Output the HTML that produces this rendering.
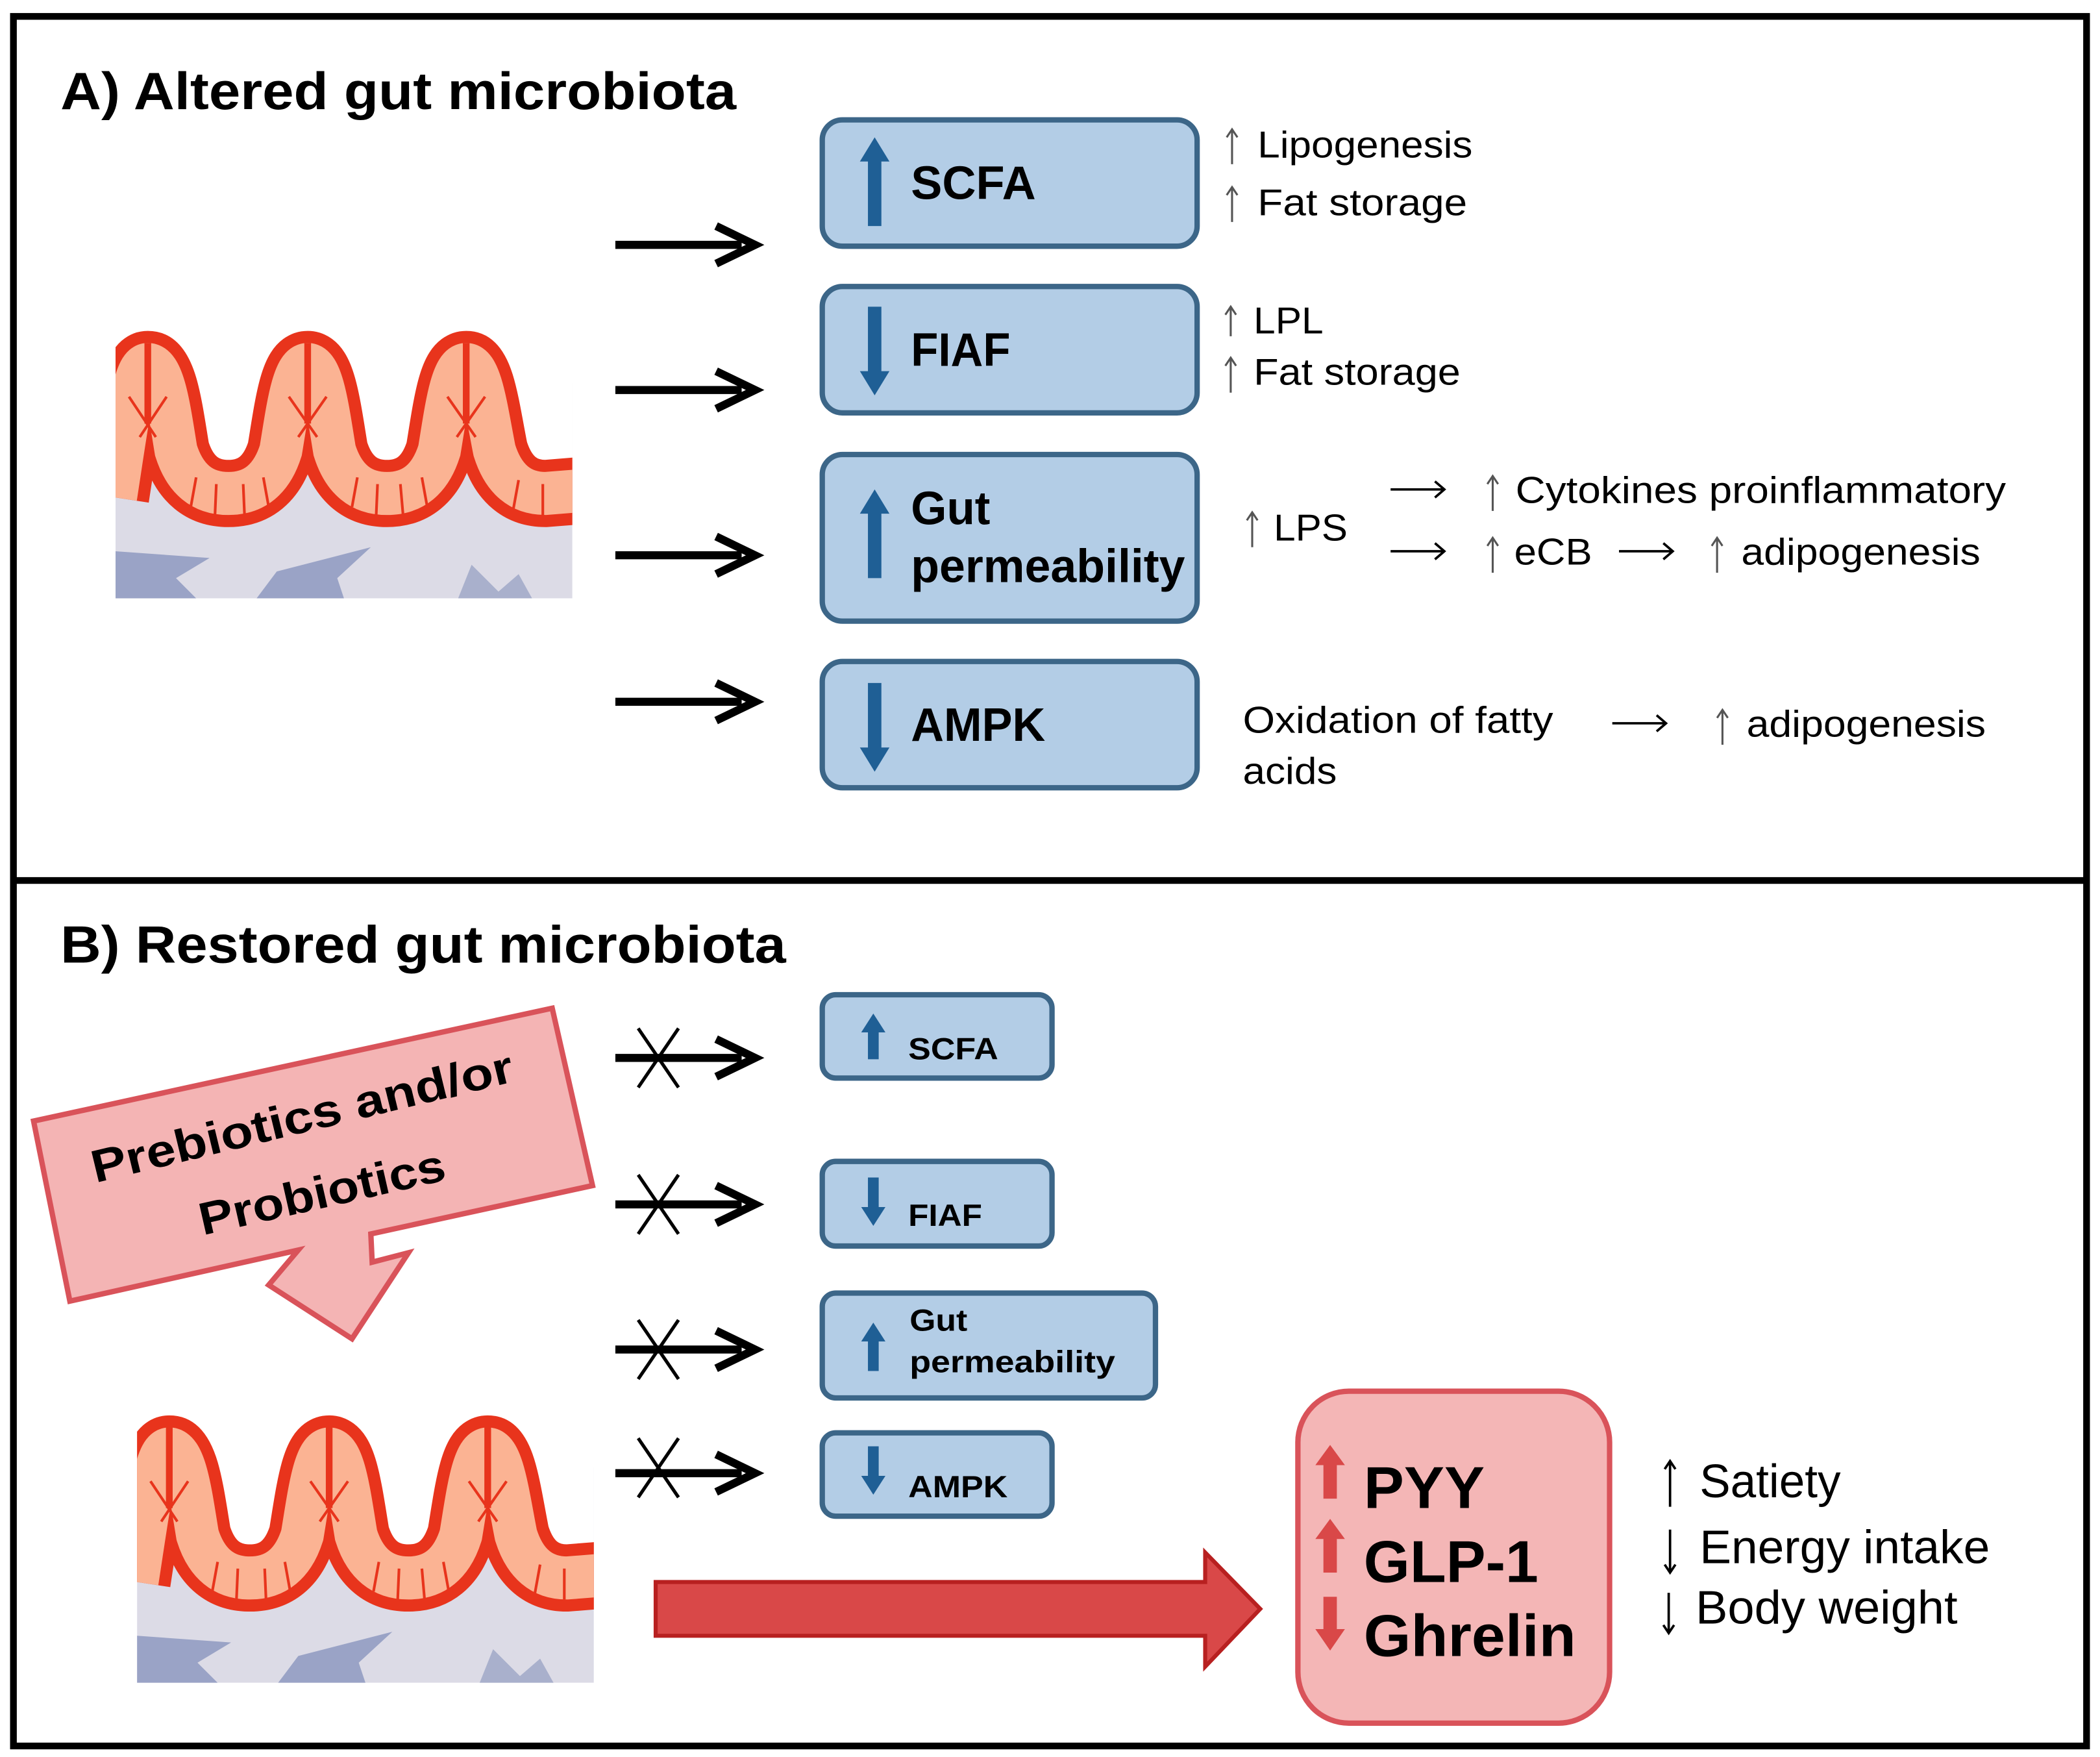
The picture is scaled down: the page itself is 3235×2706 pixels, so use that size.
<!DOCTYPE html>
<html><head><meta charset="utf-8"><style>
html,body{margin:0;padding:0;background:#fff}
svg{display:block}
text{font-family:"Liberation Sans",Arial,sans-serif}
</style></head><body>
<svg width="3235" height="2706" viewBox="0 0 1563 1307" xmlns="http://www.w3.org/2000/svg">
<defs>
<clipPath id="gc"><rect x="0" y="0" width="340" height="200"/></clipPath>
<g id="gut">
<g clip-path="url(#gc)">
<rect x="0" y="40" width="340" height="160" fill="#dcdbe6"/>
<path d="M0,125 C10,60 14,26 24,26 C36,26 40,60 45,90 Q55,122 84,122 Q113,122 123,90 C128,60 132,26 143,26 C154,26 158,60 163,90 Q173,122 202,122 Q231,122 241,90 C246,60 250,26 261,26 C272,26 276,60 282,90 Q292,122 320,122 L345,120 L345,0 L0,0 Z" fill="#fff"/>
<polygon points="0,165 70,170 45,185 60,200 0,200" fill="#9aa3c6"/>
<polygon points="105,200 120,180 190,162 165,185 170,200" fill="#9aa3c6"/>
<polygon points="255,200 265,175 285,195 300,182 310,200" fill="#a9b0cc"/>
<path d="M0,125 C10,60 14,26 24,26 C36,26 40,60 45,90 Q55,122 84,122 Q113,122 123,90 C128,60 132,26 143,26 C154,26 158,60 163,90 Q173,122 202,122 Q231,122 241,90 C246,60 250,26 261,26 C272,26 276,60 282,90 Q292,122 320,122 L345,120" fill="none" stroke="#e8341c" stroke-width="50"/>
<path d="M0,125 C10,60 14,26 24,26 C36,26 40,60 45,90 Q55,122 84,122 Q113,122 123,90 C128,60 132,26 143,26 C154,26 158,60 163,90 Q173,122 202,122 Q231,122 241,90 C246,60 250,26 261,26 C272,26 276,60 282,90 Q292,122 320,122 L345,120" fill="none" stroke="#fbb393" stroke-width="32"/>
<path d="M24,10 L24,70 M143,10 L143,70 M261,10 L261,70" stroke="#e8341c" stroke-width="5"/>
<path d="M10,50 L30,80 M38,50 L18,80 M129,50 L150,80 M157,50 L136,80 M247,50 L268,80 M275,50 L254,80" stroke="#e8341c" stroke-width="2"/>
<path d="M60,110 L56,132 M75,115 L74,138 M95,115 L96,138 M110,110 L114,132 M180,110 L176,132 M195,115 L194,138 M212,115 L214,138 M228,110 L232,132 M300,112 L296,134 M318,115 L318,138" stroke="#e8341c" stroke-width="2"/>
</g>
</g>
<g id="bar"><path d="M458,0 L552,0" stroke="#000" stroke-width="6"/><path d="M533,-14 L562,0 L533,14" fill="none" stroke="#000" stroke-width="6"/></g>
<g id="xx"><path d="M475,-22 L505,22 M505,-22 L475,22" stroke="#000" stroke-width="2.5"/></g>
</defs>

<rect x="10" y="12" width="1543" height="1287" fill="none" stroke="#000" stroke-width="5"/>
<line x1="10" y1="655" x2="1553" y2="655" stroke="#000" stroke-width="5"/>

<text x="45" y="81" font-size="39" font-weight="bold" textLength="503" lengthAdjust="spacingAndGlyphs">A) Altered gut microbiota</text>
<text x="45" y="716" font-size="39" font-weight="bold" textLength="540" lengthAdjust="spacingAndGlyphs">B) Restored gut microbiota</text>

<use href="#gut" x="86" y="245"/>
<use href="#gut" x="102" y="1052"/>

<use href="#bar" y="182"/><use href="#bar" y="290"/><use href="#bar" y="413"/><use href="#bar" y="522"/>
<use href="#bar" y="787"/><use href="#bar" y="896"/><use href="#bar" y="1004"/><use href="#bar" y="1096"/>
<use href="#xx" y="787"/><use href="#xx" y="896"/><use href="#xx" y="1004"/><use href="#xx" y="1092"/>

<g fill="#b3cde6" stroke="#3c6688" stroke-width="4">
<rect x="612" y="89" width="279" height="94" rx="15"/>
<rect x="612" y="213" width="279" height="94" rx="15"/>
<rect x="612" y="338" width="279" height="124" rx="15"/>
<rect x="612" y="492" width="279" height="94" rx="15"/>
<rect x="612" y="740" width="171" height="62" rx="10"/>
<rect x="612" y="864" width="171" height="63" rx="10"/>
<rect x="612" y="962" width="248" height="78" rx="10"/>
<rect x="612" y="1066" width="171" height="62" rx="10"/>
</g>
<g fill="#1f5f95">
<path d="M646,168 L646,120 L640,120 L651,102 L662,120 L656,120 L656,168Z"/>
<path d="M646,228 L646,276 L640,276 L651,294 L662,276 L656,276 L656,228Z"/>
<path d="M646,430 L646,382 L640,382 L651,364 L662,382 L656,382 L656,430Z"/>
<path d="M646,508 L646,556 L640,556 L651,574 L662,556 L656,556 L656,508Z"/>
<path d="M646,788 L646,768 L641,768 L650,754 L659,768 L654,768 L654,788Z"/>
<path d="M646,876 L646,898 L641,898 L650,912 L659,898 L654,898 L654,876Z"/>
<path d="M646,1020 L646,998 L641,998 L650,984 L659,998 L654,998 L654,1020Z"/>
<path d="M646,1076 L646,1098 L641,1098 L650,1112 L659,1098 L654,1098 L654,1076Z"/>
</g>
<g font-weight="bold">
<text x="678" y="148" font-size="35" textLength="93" lengthAdjust="spacingAndGlyphs">SCFA</text>
<text x="678" y="272" font-size="35" textLength="74" lengthAdjust="spacingAndGlyphs">FIAF</text>
<text x="678" y="390" font-size="35" textLength="59" lengthAdjust="spacingAndGlyphs">Gut</text>
<text x="678" y="433" font-size="35" textLength="204" lengthAdjust="spacingAndGlyphs">permeability</text>
<text x="678" y="551" font-size="35" textLength="100" lengthAdjust="spacingAndGlyphs">AMPK</text>
<text x="676" y="788" font-size="23" textLength="67" lengthAdjust="spacingAndGlyphs">SCFA</text>
<text x="676" y="912" font-size="23" textLength="55" lengthAdjust="spacingAndGlyphs">FIAF</text>
<text x="677" y="990" font-size="23" textLength="43" lengthAdjust="spacingAndGlyphs">Gut</text>
<text x="677" y="1021" font-size="23" textLength="153" lengthAdjust="spacingAndGlyphs">permeability</text>
<text x="676" y="1114" font-size="23" textLength="74" lengthAdjust="spacingAndGlyphs">AMPK</text>
</g>

<g stroke="#555" stroke-width="1.5" fill="none">
<path d="M917,122 L917,96 M913,102 L917,96 L921,102"/>
<path d="M917,165 L917,139 M913,145 L917,139 L921,145"/>
<path d="M916,250 L916,228 M912,234 L916,228 L920,234"/>
<path d="M916,292 L916,266 M912,272 L916,266 L920,272"/>
<path d="M932,407 L932,381 M928,387 L932,381 L936,387"/>
<path d="M1111,380 L1111,354 M1107,360 L1111,354 L1115,360"/>
<path d="M1111,426 L1111,400 M1107,406 L1111,400 L1115,406"/>
<path d="M1278,426 L1278,400 M1274,406 L1278,400 L1282,406"/>
<path d="M1282,554 L1282,528 M1278,534 L1282,528 L1286,534"/>
</g>
<g stroke="#000" stroke-width="1.8" fill="none">
<path d="M1243,1121 L1243,1087 M1239,1093 L1243,1087 L1247,1093"/>
<path d="M1243,1138 L1243,1170 M1239,1164 L1243,1170 L1247,1164"/>
<path d="M1242,1185 L1242,1215 M1238,1209 L1242,1215 L1246,1209"/>
<path d="M1035,364 L1075,364 M1068,358 L1075,364 L1068,370"/>
<path d="M1035,410 L1075,410 M1068,404 L1075,410 L1068,416"/>
<path d="M1205,410 L1245,410 M1238,404 L1245,410 L1238,416"/>
<path d="M1200,538 L1240,538 M1233,532 L1240,538 L1233,544"/>
</g>
<g font-size="28">
<text x="936" y="117" textLength="160" lengthAdjust="spacingAndGlyphs">Lipogenesis</text>
<text x="936" y="160" textLength="156" lengthAdjust="spacingAndGlyphs">Fat storage</text>
<text x="933" y="248" textLength="52" lengthAdjust="spacingAndGlyphs">LPL</text>
<text x="933" y="286" textLength="154" lengthAdjust="spacingAndGlyphs">Fat storage</text>
<text x="948" y="402" textLength="55" lengthAdjust="spacingAndGlyphs">LPS</text>
<text x="1128" y="374" textLength="365" lengthAdjust="spacingAndGlyphs">Cytokines proinflammatory</text>
<text x="1127" y="420" textLength="58" lengthAdjust="spacingAndGlyphs">eCB</text>
<text x="1296" y="420" textLength="178" lengthAdjust="spacingAndGlyphs">adipogenesis</text>
<text x="925" y="545" textLength="231" lengthAdjust="spacingAndGlyphs">Oxidation of fatty</text>
<text x="925" y="583" textLength="70" lengthAdjust="spacingAndGlyphs">acids</text>
<text x="1300" y="548" textLength="178" lengthAdjust="spacingAndGlyphs">adipogenesis</text>
</g>

<polygon points="25,834 411,750 441,882 276,918 277,939 304,932 262,996 200,956 222,930 52,968" fill="#f4b4b4" stroke="#d9535a" stroke-width="4" stroke-linejoin="miter"/>
<text font-size="34" font-weight="bold" transform="translate(71,880) rotate(-13.6)" textLength="322" lengthAdjust="spacingAndGlyphs">Prebiotics and/or</text>
<text font-size="34" font-weight="bold" transform="translate(151,919) rotate(-12.8)" textLength="187" lengthAdjust="spacingAndGlyphs">Probiotics</text>

<polygon points="488,1177 897,1177 897,1155 938,1197 897,1240 897,1217 488,1217" fill="#d94848" stroke="#b82020" stroke-width="3"/>

<rect x="966" y="1035" width="232" height="247" rx="38" fill="#f4b6b6" stroke="#d9535a" stroke-width="4"/>
<g fill="#d94848">
<path d="M985,1115 L985,1090 L979,1090 L990,1075 L1001,1090 L995,1090 L995,1115Z"/>
<path d="M985,1170 L985,1145 L979,1145 L990,1130 L1001,1145 L995,1145 L995,1170Z"/>
<path d="M985,1188 L985,1212 L979,1212 L990,1228 L1001,1212 L995,1212 L995,1188Z"/>
</g>
<g font-size="44" font-weight="bold">
<text x="1015" y="1122" textLength="90" lengthAdjust="spacingAndGlyphs">PYY</text>
<text x="1015" y="1177" textLength="130" lengthAdjust="spacingAndGlyphs">GLP-1</text>
<text x="1015" y="1232" textLength="158" lengthAdjust="spacingAndGlyphs">Ghrelin</text>
</g>
<g font-size="35">
<text x="1265" y="1114" textLength="105" lengthAdjust="spacingAndGlyphs">Satiety</text>
<text x="1265" y="1163" textLength="216" lengthAdjust="spacingAndGlyphs">Energy intake</text>
<text x="1262" y="1208" textLength="195" lengthAdjust="spacingAndGlyphs">Body weight</text>
</g>
</svg>
</body></html>
